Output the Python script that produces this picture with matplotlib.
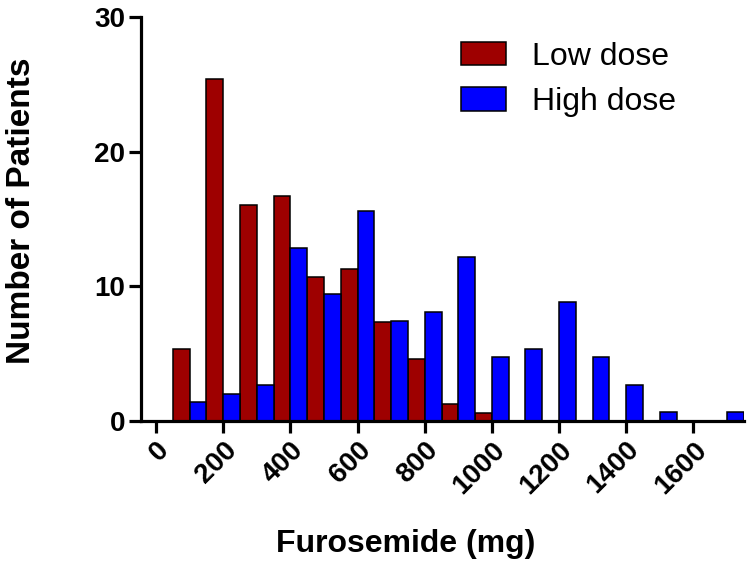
import numpy as np
from matplotlib import pyplot as plt
from matplotlib.patches import Patch

plt.rcParams['font.family'] = ['Liberation Sans', 'DejaVu Sans']

# bin centres (mg) and patient counts
bins = [100, 200, 300, 400, 500, 600, 700, 800, 900,
        1000, 1100, 1200, 1300, 1400, 1500, 1600, 1700]
low_dose = [5.3, 25.4, 16.0, 16.7, 10.7, 11.3, 7.3, 4.6, 1.25,
            0.6, 0, 0, 0, 0, 0, 0, 0]
high_dose = [1.35, 2.0, 2.65, 12.85, 9.4, 15.6, 7.4, 8.1, 12.2,
             4.7, 5.35, 8.8, 4.7, 2.65, 0.62, 0, 0.62]
xticks = [0, 200, 400, 600, 800, 1000, 1200, 1400, 1600]
yticks = [0, 10, 20, 30]

red = '#9e0000'
blue = '#0000ff'

fig = plt.figure(figsize=(7.52, 5.70), dpi=100)
ax = fig.add_axes([0.1875, 0.262, 0.8015, 0.708])

x = np.array(bins)
lo = np.array(low_dose)
hi = np.array(high_dose)
# low dose sits left of each bin centre, high dose right of it
ax.bar(x[lo > 0] - 50, lo[lo > 0], width=50, align='edge', color=red,
       edgecolor='black', linewidth=1.1)
ax.bar(x[hi > 0], hi[hi > 0], width=50, align='edge', color=blue,
       edgecolor='black', linewidth=1.1)

ax.set_xlim(-45, 1750)
ax.set_ylim(0, 30)
ax.set_xticks(xticks)
ax.set_yticks(yticks)
ax.set_xticklabels([str(t) for t in xticks], rotation=45, ha='right',
                   va='top', rotation_mode='anchor', fontweight='bold',
                   fontsize=20)
ax.set_yticklabels([str(t) for t in yticks], fontweight='bold', fontsize=20)

for s in ['top', 'right']:
    ax.spines[s].set_visible(False)
for s in ['left', 'bottom']:
    ax.spines[s].set_linewidth(2.3)
ax.tick_params(width=2.3, length=8.5, direction='out', pad=3)

fig.text(0.028, 0.63, 'Number of Patients', rotation=90, ha='center',
         va='center', fontsize=24, fontweight='bold')
fig.text(0.539, 0.045, 'Furosemide (mg)', ha='center', va='center',
         fontsize=23, fontweight='bold')

handles = [Patch(facecolor=red, edgecolor='black', linewidth=1.1),
           Patch(facecolor=blue, edgecolor='black', linewidth=1.1)]
ax.legend(handles, ['Low dose', 'High dose'], loc='upper left',
          bbox_to_anchor=(0.484, 1.01), frameon=False, fontsize=23,
          handlelength=1.4, handleheight=0.75, handletextpad=0.8,
          labelspacing=0.48)

fig.savefig('out.png', dpi=100)
